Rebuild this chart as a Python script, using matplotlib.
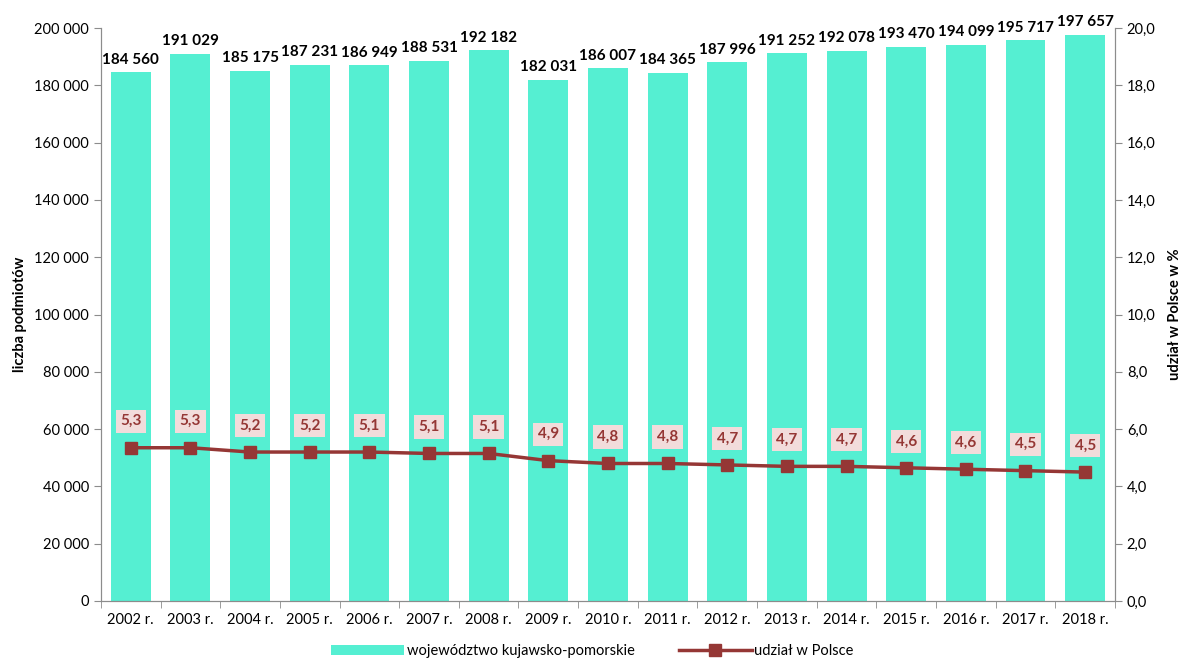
import matplotlib.pyplot as plt
import numpy as np
from matplotlib.ticker import FuncFormatter, FixedLocator

plt.rcParams['font.family'] = ['Lato', 'DejaVu Sans']

# Data
years = ["2002 r.", "2003 r.", "2004 r.", "2005 r.", "2006 r.", "2007 r.", "2008 r.", "2009 r.", "2010 r.",
         "2011 r.", "2012 r.", "2013 r.", "2014 r.", "2015 r.", "2016 r.", "2017 r.", "2018 r."]
podmioty = [184560, 191029, 185175, 187231, 186949, 188531, 192182, 182031, 186007,
            184365, 187996, 191252, 192078, 193470, 194099, 195717, 197657]
udzial = [5.35, 5.35, 5.2, 5.2, 5.2, 5.15, 5.15, 4.9, 4.8, 4.8, 4.75, 4.7, 4.7, 4.65, 4.6, 4.55, 4.5]
udzial_labels = ["5,3", "5,3", "5,2", "5,2", "5,1", "5,1", "5,1", "4,9", "4,8",
                 "4,8", "4,7", "4,7", "4,7", "4,6", "4,6", "4,5", "4,5"]

bar_color = "#55EFD2"
line_color = "#953735"
axis_color = "#8C8C8C"

fig = plt.figure(figsize=(11.85, 6.68), dpi=100)
ax = fig.add_axes([0.0852, 0.1003, 0.8557, 0.8577])
ax2 = ax.twinx()

x = np.arange(len(years))
ax.bar(x, podmioty, width=0.67, color=bar_color, zorder=2,
       label="województwo kujawsko-pomorskie")
for xi, v in zip(x, podmioty):
    ax.annotate(f"{v:,}".replace(",", " "), (xi, v), xytext=(0, 4), textcoords="offset points",
                ha="center", va="bottom", fontsize=11, fontweight="bold", color="black")

ax.set_ylim(0, 200000)
ax.set_xlim(-0.5, len(years) - 0.5)
ax.set_yticks(np.arange(0, 200001, 20000))
ax.yaxis.set_major_formatter(FuncFormatter(lambda v, p: f"{int(v):,}".replace(",", " ")))
ax.set_xticks(x)
ax.set_xticklabels(years)
ax.xaxis.set_minor_locator(FixedLocator(np.arange(-0.5, len(years), 1)))
ax.tick_params(axis="x", which="major", length=0, labelsize=10.5, pad=9)
ax.tick_params(axis="x", which="minor", length=5, color=axis_color)
ax.tick_params(axis="y", length=5, color=axis_color, labelsize=10.5)
ax.set_ylabel("liczba podmiotów", fontsize=10.5, fontweight="bold", labelpad=5)

ax2.plot(x, udzial, color=line_color, lw=2.5, marker="s", markersize=8, zorder=3,
         label="udział w Polsce")
for xi, v, lab in zip(x, udzial, udzial_labels):
    ax2.annotate(lab, (xi, v), xytext=(0, 14), textcoords="offset points", ha="center", va="bottom",
                 fontsize=11, fontweight="bold", color=line_color,
                 bbox=dict(boxstyle="square,pad=0.3", fc="#F2DCDB", ec="none"))
ax2.set_ylim(0, 20)
ax2.set_yticks(np.arange(0, 20.1, 2))
ax2.yaxis.set_major_formatter(FuncFormatter(lambda v, p: f"{v:.1f}".replace(".", ",")))
ax2.tick_params(axis="y", length=5, color=axis_color, labelsize=10.5)
ax2.set_ylabel("udział w Polsce w %", fontsize=10.5, fontweight="bold", labelpad=9)

for a in (ax, ax2):
    a.spines["top"].set_visible(False)
    for s in ("left", "right", "bottom"):
        a.spines[s].set_color(axis_color)

h1, l1 = ax.get_legend_handles_labels()
h2, l2 = ax2.get_legend_handles_labels()
fig.legend(h1 + h2, l1 + l2, loc="lower center", bbox_to_anchor=(0.5, -0.005), ncol=2,
           frameon=False, fontsize=10.5, handlelength=5, handleheight=0.6, columnspacing=3,
           handletextpad=0.2)

fig.savefig("out.png", dpi=100)
